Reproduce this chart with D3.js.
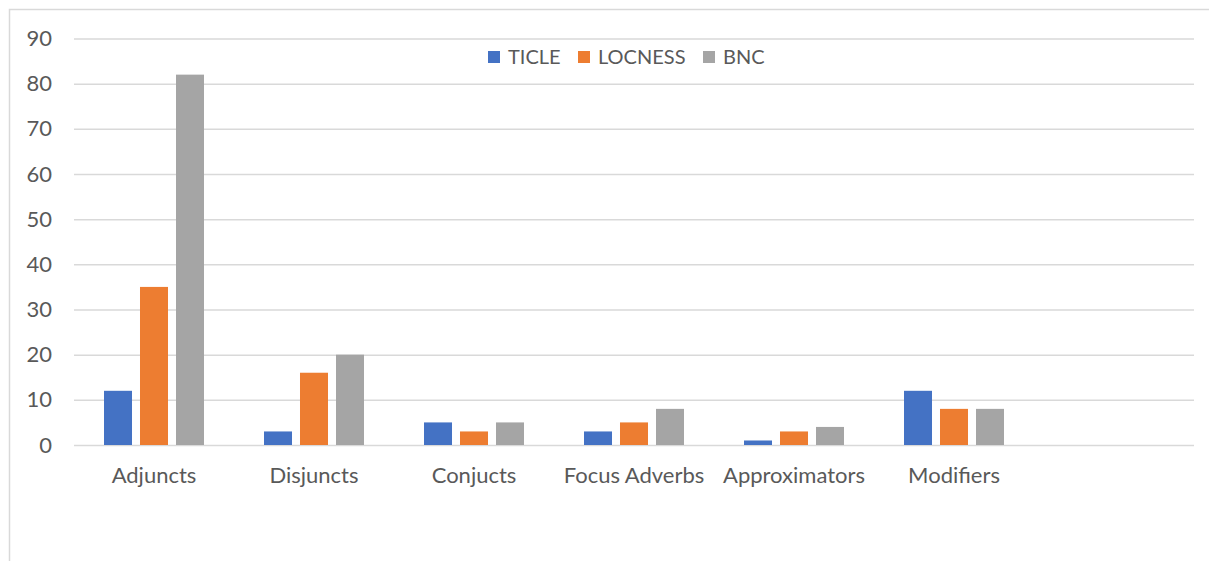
<!DOCTYPE html>
<html>
<head>
<meta charset="utf-8">
<script src="https://cdn.jsdelivr.net/npm/d3@7"></script>
<style>
  body { margin: 0; background: #fff; }
  text { font-family: Lato, "Open Sans", sans-serif; fill: #595959; }
</style>
</head>
<body>
<div id="chart"></div>
<script>
//////////////////////////// data /////////////////////////////////////////

const categories = ["Adjuncts", "Disjuncts", "Conjucts", "Focus Adverbs", "Approximators", "Modifiers", ""];
const seriesNames = ["TICLE", "LOCNESS", "BNC"];
const ticle   = [12, 3, 5, 3, 1, 12, null];
const locness = [35, 16, 3, 5, 3, 8, null];
const bnc     = [82, 20, 5, 8, 4, 8, null];
const yTicks = [0, 10, 20, 30, 40, 50, 60, 70, 80, 90];
const colors = ["#4472C4", "#ED7D31", "#A5A5A5"];

const seriesValues = [ticle, locness, bnc];

//////////////////////////// set up svg ///////////////////////////////////

const width = 1209;
const height = 561;
const margin = { top: 38.5, right: 15, bottom: 116, left: 74 };
const fontSize = "22px";

const svg = d3.select("#chart")
  .append("svg")
  .attr("width", width)
  .attr("height", height);

// chart frame (runs off right and bottom edge)
svg.append("rect")
  .attr("x", 9.5).attr("y", 9.5)
  .attr("width", width + 10).attr("height", height + 10)
  .attr("fill", "none")
  .attr("stroke", "#D9D9D9")
  .attr("stroke-width", 1.5);

//////////////////////////// scales ///////////////////////////////////////

const x0 = d3.scaleBand()
  .domain(d3.range(categories.length))
  .range([margin.left, 1194])
  .paddingInner(0.375)
  .paddingOuter(0.1875);

const x1 = d3.scaleBand()
  .domain(d3.range(seriesNames.length))
  .range([0, x0.bandwidth()])
  .paddingInner(0.222);

const y = d3.scaleLinear()
  .domain([0, 90])
  .range([445, margin.top]);

//////////////////////////// axes /////////////////////////////////////////

const yAxis = svg.append("g")
  .attr("transform", `translate(${margin.left},0)`)
  .call(d3.axisLeft(y).tickValues(yTicks).tickSize(-(1194 - margin.left)).tickPadding(22));

yAxis.select(".domain").remove();
yAxis.selectAll(".tick line").attr("stroke", "#D9D9D9").attr("stroke-width", 1.5);
yAxis.selectAll(".tick text")
  .style("font-size", fontSize)
  .attr("fill", "#595959");

const xAxis = svg.append("g")
  .attr("transform", `translate(0,${y(0)})`)
  .call(d3.axisBottom(x0).tickSize(0).tickPadding(22).tickFormat(i => categories[i]));

xAxis.select(".domain").remove();
xAxis.selectAll(".tick text")
  .style("font-size", fontSize)
  .attr("fill", "#595959");

//////////////////////////// bars /////////////////////////////////////////

const groups = svg.selectAll("g.cat")
  .data(categories.map((c, i) => i))
  .join("g")
  .attr("class", "cat")
  .attr("transform", i => `translate(${x0(i)},0)`);

groups.selectAll("rect")
  .data(i => seriesValues.map((s, k) => ({ k, v: s[i] })).filter(d => d.v != null))
  .join("rect")
  .attr("x", d => x1(d.k))
  .attr("width", x1.bandwidth())
  .attr("y", d => y(d.v))
  .attr("height", d => y(0) - y(d.v))
  .attr("fill", d => colors[d.k]);

//////////////////////////// legend ///////////////////////////////////////

const legendX = [488, 578, 703];
const legend = svg.selectAll("g.legend")
  .data(seriesNames)
  .join("g")
  .attr("class", "legend")
  .attr("transform", (d, i) => `translate(${legendX[i]},51)`);

legend.append("rect")
  .attr("width", 12).attr("height", 12)
  .attr("fill", (d, i) => colors[i]);

legend.append("text")
  .attr("x", 20).attr("y", 6)
  .attr("dy", "0.35em")
  .style("font-size", "20px")
  .text(d => d);
</script>
</body>
</html>
